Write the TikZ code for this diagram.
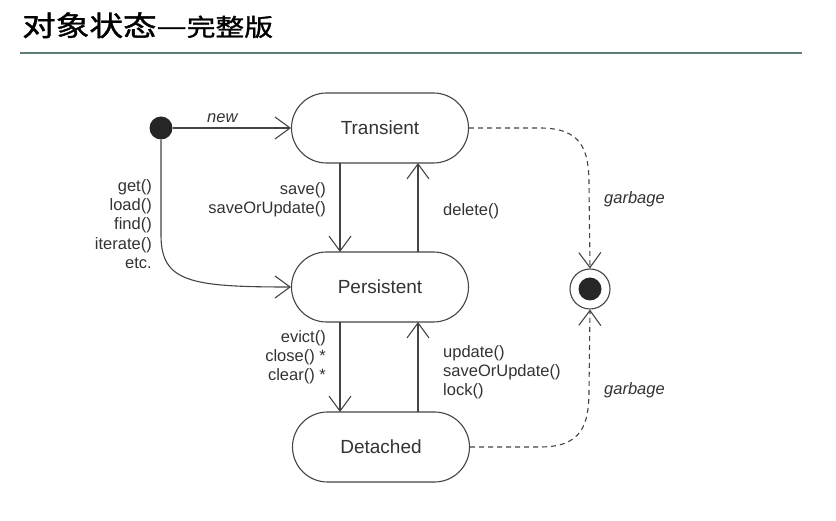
\documentclass[tikz,border=0pt]{standalone}
\usepackage{fontspec}
\setmainfont{Liberation Sans}
\newfontfamily\cjk{Noto Sans CJK SC}[FakeBold=1.2]
\usetikzlibrary{arrows.meta}
\definecolor{ink}{HTML}{333333}
\definecolor{linec}{HTML}{444444}
\definecolor{rulecol}{HTML}{5E7D78}
\tikzset{
  statebox/.style={draw=linec, line width=1.1pt, rounded corners=35pt, minimum width=177pt, minimum height=70pt, inner sep=0pt, font=\fontsize{19}{19}\selectfont, text=ink},
  trans/.style={draw=linec, line width=1.1pt, -{Straight Barb[length=15pt,width=22pt,line width=1.1pt]}},
  gtrans/.style={trans, dash pattern=on 5pt off 4pt},
  lbl/.style={font=\fontsize{16.5}{19.3}\selectfont, text=ink, inner sep=0pt, align=#1},
  lbl/.default=left,
}
\begin{document}
\begin{tikzpicture}[x=1pt,y=-1pt]
\useasboundingbox (0,0) rectangle (836,521);
% title
\node[anchor=base west, inner sep=0pt, xscale=1.2, transform shape, text=black] (title) at (22,36) {\cjk\fontsize{28}{28}\selectfont 对象状态—\fontsize{24}{24}\selectfont 完整版};
\draw[rulecol, line width=2.8pt] (20,53) -- (802,53);
% states
\node[statebox] (T) at (380,128) {Transient};
\node[statebox] (P) at (380,287) {Persistent};
\node[statebox] (D) at (381,447) {Detached};
\node[circle, fill=black!85, minimum size=23pt, inner sep=0pt] (init) at (161,128) {};
\node[circle, draw=linec, line width=1.1pt, minimum size=40pt, inner sep=0pt] (fin) at (590,289) {};
\node[circle, fill=black!85, minimum size=23pt, inner sep=0pt] (finin) at (fin.center) {};
% transitions
\draw[trans] (init.east) -- node[above, font=\fontsize{16.5}{16}\selectfont\itshape, text=ink, pos=0.42, yshift=1pt] (newl) {new} (T.west);
\draw[trans] (init.south) -- (161,235) .. controls (161,282) and (190,287) .. (P.west);
\node[lbl=right, anchor=north east] (getl) at (152,179) {get()\\load()\\find()\\iterate()\\etc.};
\coordinate (tsave) at (340,163);
\coordinate (psave) at (340,252);
\draw[trans] (tsave) -- (psave);
\node[lbl=right, anchor=north east] (savel) at (326,182) {save()\\saveOrUpdate()};
\coordinate (pdel) at (418,252);
\coordinate (tdel) at (418,163);
\draw[trans] (pdel) -- (tdel);
\node[lbl, anchor=north west] (dell) at (443,203) {delete()};
\coordinate (pev) at (340,322);
\coordinate (dev) at (340,412);
\draw[trans] (pev) -- (dev);
\node[lbl=right, anchor=north east] (evl) at (326,330) {evict()\\close() *\\clear() *};
\coordinate (dup) at (418,412);
\coordinate (pup) at (418,322);
\draw[trans] (dup) -- (pup);
\node[lbl, anchor=north west] (upl) at (443,345) {update()\\saveOrUpdate()\\lock()};
% garbage
\draw[gtrans] (T.east) -- (540,128) .. controls (582,128) and (589,150) .. (589,185) -- (fin.north);
\draw[gtrans] (D.east) -- (540,447) .. controls (582,447) and (589,425) .. (589,390) -- (fin.south);
\node[lbl, anchor=north west, font=\fontsize{16.5}{19}\selectfont\itshape] (g1) at (604,191) {garbage};
\node[lbl, anchor=north west, font=\fontsize{16.5}{19}\selectfont\itshape] (g2) at (604,382) {garbage};
\end{tikzpicture}
\end{document}
